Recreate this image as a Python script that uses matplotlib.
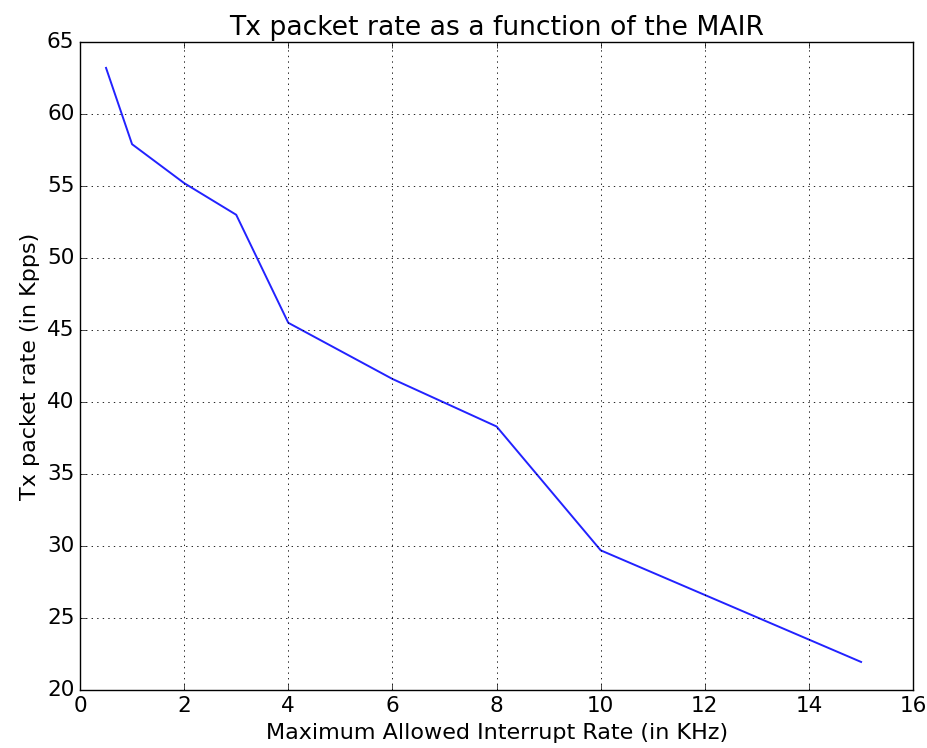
import matplotlib
matplotlib.use('Agg')
import matplotlib.pyplot as plt

plt.style.use('classic')

# Maximum Allowed Interrupt Rate (KHz) vs Tx packet rate (Kpps)
mair = [0.5, 1, 2, 3, 4, 6, 8, 10, 15]
tx_rate = [63.2, 57.9, 55.2, 53.0, 45.5, 41.6, 38.3, 29.7, 21.95]

fig = plt.figure(figsize=(9.28, 7.48), dpi=100, facecolor='white')
ax = fig.add_axes([0.0862, 0.0775, 0.8978, 0.8664])

ax.plot(mair, tx_rate, color='#2222ff', linewidth=1.4)

ax.set_xlim(0, 16)
ax.set_ylim(20, 65)
ax.set_xticks(range(0, 17, 2))
ax.set_yticks(range(20, 66, 5))
ax.grid(True, color='k', linestyle=':', linewidth=0.6)
ax.tick_params(labelsize=15.5)

ax.set_title('Tx packet rate as a function of the MAIR', fontsize=19.2)
ax.set_xlabel('Maximum Allowed Interrupt Rate (in KHz)', fontsize=16)
ax.set_ylabel('Tx packet rate (in Kpps)', fontsize=16)

fig.savefig('out.png', dpi=100, facecolor='white')
